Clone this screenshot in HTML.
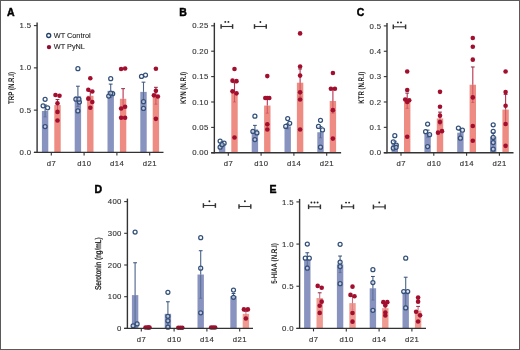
<!DOCTYPE html>
<html><head><meta charset="utf-8"><style>
html,body{margin:0;padding:0;width:520px;height:350px;overflow:hidden;background:#fff;font-family:"Liberation Sans", sans-serif;}
</style></head><body>
<svg width="520" height="350" viewBox="0 0 520 350" style="position:absolute;left:0;top:0;will-change:transform" font-family="'Liberation Sans', sans-serif">
<rect x="0" y="0" width="520" height="350" fill="#fff"/>
<text x="7.0" y="16.20" font-size="10.5" font-weight="bold" fill="#000" stroke="#000" stroke-width="0.45">A</text>
<text transform="translate(13.9,88.0) rotate(-90) scale(0.7497,1)" text-anchor="middle" font-size="8.2" font-weight="bold" fill="#1a1a1a" stroke="#1a1a1a" stroke-width="0" text-rendering="geometricPrecision">TRP (N.R.I)</text>
<rect x="41.90" y="110.98" width="6.4" height="41.42" fill="#8993bf"/>
<rect x="54.30" y="105.06" width="6.4" height="47.34" fill="#ee8b82"/>
<rect x="74.70" y="96.36" width="6.4" height="56.04" fill="#8993bf"/>
<rect x="87.10" y="95.76" width="6.4" height="56.64" fill="#ee8b82"/>
<rect x="107.50" y="90.86" width="6.4" height="61.54" fill="#8993bf"/>
<rect x="119.90" y="98.81" width="6.4" height="53.59" fill="#ee8b82"/>
<rect x="140.30" y="91.88" width="6.4" height="60.52" fill="#8993bf"/>
<rect x="152.70" y="95.76" width="6.4" height="56.64" fill="#ee8b82"/>
<line x1="45.10" y1="105.06" x2="45.10" y2="110.98" stroke="#4a6488" stroke-width="1.1"/>
<line x1="43.20" y1="105.06" x2="47.00" y2="105.06" stroke="#33507a" stroke-width="1.0"/>
<line x1="45.10" y1="110.98" x2="45.10" y2="116.90" stroke="#4a6488" stroke-width="1.0" stroke-opacity="0.75"/>
<line x1="43.60" y1="116.90" x2="46.60" y2="116.90" stroke="#4a6488" stroke-width="0.9" stroke-opacity="0.6"/>
<line x1="57.50" y1="99.57" x2="57.50" y2="105.06" stroke="#b8304f" stroke-width="1.1"/>
<line x1="55.60" y1="99.57" x2="59.40" y2="99.57" stroke="#8a2a45" stroke-width="1.0"/>
<line x1="57.50" y1="105.06" x2="57.50" y2="110.56" stroke="#b8304f" stroke-width="1.0" stroke-opacity="0.55"/>
<line x1="56.00" y1="110.56" x2="59.00" y2="110.56" stroke="#b8304f" stroke-width="0.9" stroke-opacity="0.45"/>
<line x1="77.90" y1="86.21" x2="77.90" y2="96.36" stroke="#4a6488" stroke-width="1.1"/>
<line x1="76.00" y1="86.21" x2="79.80" y2="86.21" stroke="#33507a" stroke-width="1.0"/>
<line x1="77.90" y1="96.36" x2="77.90" y2="106.50" stroke="#4a6488" stroke-width="1.0" stroke-opacity="0.75"/>
<line x1="76.40" y1="106.50" x2="79.40" y2="106.50" stroke="#4a6488" stroke-width="0.9" stroke-opacity="0.6"/>
<line x1="90.30" y1="91.54" x2="90.30" y2="95.76" stroke="#b8304f" stroke-width="1.1"/>
<line x1="88.40" y1="91.54" x2="92.20" y2="91.54" stroke="#8a2a45" stroke-width="1.0"/>
<line x1="90.30" y1="95.76" x2="90.30" y2="99.99" stroke="#b8304f" stroke-width="1.0" stroke-opacity="0.55"/>
<line x1="88.80" y1="99.99" x2="91.80" y2="99.99" stroke="#b8304f" stroke-width="0.9" stroke-opacity="0.45"/>
<line x1="110.70" y1="84.10" x2="110.70" y2="90.86" stroke="#4a6488" stroke-width="1.1"/>
<line x1="108.80" y1="84.10" x2="112.60" y2="84.10" stroke="#33507a" stroke-width="1.0"/>
<line x1="110.70" y1="90.86" x2="110.70" y2="97.62" stroke="#4a6488" stroke-width="1.0" stroke-opacity="0.75"/>
<line x1="109.20" y1="97.62" x2="112.20" y2="97.62" stroke="#4a6488" stroke-width="0.9" stroke-opacity="0.6"/>
<line x1="123.10" y1="88.66" x2="123.10" y2="98.81" stroke="#b8304f" stroke-width="1.1"/>
<line x1="121.20" y1="88.66" x2="125.00" y2="88.66" stroke="#8a2a45" stroke-width="1.0"/>
<line x1="123.10" y1="98.81" x2="123.10" y2="108.95" stroke="#b8304f" stroke-width="1.0" stroke-opacity="0.55"/>
<line x1="121.60" y1="108.95" x2="124.60" y2="108.95" stroke="#b8304f" stroke-width="0.9" stroke-opacity="0.45"/>
<line x1="143.50" y1="82.16" x2="143.50" y2="91.88" stroke="#4a6488" stroke-width="1.1"/>
<line x1="141.60" y1="82.16" x2="145.40" y2="82.16" stroke="#33507a" stroke-width="1.0"/>
<line x1="143.50" y1="91.88" x2="143.50" y2="101.60" stroke="#4a6488" stroke-width="1.0" stroke-opacity="0.75"/>
<line x1="142.00" y1="101.60" x2="145.00" y2="101.60" stroke="#4a6488" stroke-width="0.9" stroke-opacity="0.6"/>
<line x1="155.90" y1="87.31" x2="155.90" y2="95.76" stroke="#b8304f" stroke-width="1.1"/>
<line x1="154.00" y1="87.31" x2="157.80" y2="87.31" stroke="#8a2a45" stroke-width="1.0"/>
<line x1="155.90" y1="95.76" x2="155.90" y2="104.22" stroke="#b8304f" stroke-width="1.0" stroke-opacity="0.55"/>
<line x1="154.40" y1="104.22" x2="157.40" y2="104.22" stroke="#b8304f" stroke-width="0.9" stroke-opacity="0.45"/>
<circle cx="45.10" cy="99.32" r="2.0" fill="#fff" fill-opacity="0.5" stroke="#33507a" stroke-width="1.25"/>
<circle cx="43.10" cy="105.82" r="2.0" fill="#fff" fill-opacity="0.5" stroke="#33507a" stroke-width="1.25"/>
<circle cx="47.60" cy="107.85" r="2.0" fill="#fff" fill-opacity="0.5" stroke="#33507a" stroke-width="1.25"/>
<circle cx="45.10" cy="126.62" r="2.0" fill="#fff" fill-opacity="0.5" stroke="#33507a" stroke-width="1.25"/>
<circle cx="55.50" cy="95.00" r="2.3" fill="#a20f2e"/>
<circle cx="59.50" cy="95.68" r="2.3" fill="#a20f2e"/>
<circle cx="57.50" cy="103.29" r="2.3" fill="#a20f2e"/>
<circle cx="57.50" cy="111.91" r="2.3" fill="#a20f2e"/>
<circle cx="57.50" cy="120.45" r="2.3" fill="#a20f2e"/>
<circle cx="77.90" cy="68.72" r="2.0" fill="#fff" fill-opacity="0.5" stroke="#33507a" stroke-width="1.25"/>
<circle cx="75.90" cy="99.15" r="2.0" fill="#fff" fill-opacity="0.5" stroke="#33507a" stroke-width="1.25"/>
<circle cx="79.40" cy="102.02" r="2.0" fill="#fff" fill-opacity="0.5" stroke="#33507a" stroke-width="1.25"/>
<circle cx="78.90" cy="99.15" r="2.0" fill="#fff" fill-opacity="0.5" stroke="#33507a" stroke-width="1.25"/>
<circle cx="77.90" cy="110.98" r="2.0" fill="#fff" fill-opacity="0.5" stroke="#33507a" stroke-width="1.25"/>
<circle cx="90.30" cy="78.27" r="2.3" fill="#a20f2e"/>
<circle cx="88.30" cy="89.76" r="2.3" fill="#a20f2e"/>
<circle cx="92.30" cy="91.54" r="2.3" fill="#a20f2e"/>
<circle cx="88.30" cy="98.64" r="2.3" fill="#a20f2e"/>
<circle cx="92.30" cy="102.02" r="2.3" fill="#a20f2e"/>
<circle cx="90.30" cy="107.77" r="2.3" fill="#a20f2e"/>
<circle cx="110.70" cy="78.69" r="2.0" fill="#fff" fill-opacity="0.5" stroke="#33507a" stroke-width="1.25"/>
<circle cx="112.70" cy="93.74" r="2.0" fill="#fff" fill-opacity="0.5" stroke="#33507a" stroke-width="1.25"/>
<circle cx="108.70" cy="96.02" r="2.0" fill="#fff" fill-opacity="0.5" stroke="#33507a" stroke-width="1.25"/>
<circle cx="110.70" cy="93.23" r="2.0" fill="#fff" fill-opacity="0.5" stroke="#33507a" stroke-width="1.25"/>
<circle cx="125.10" cy="68.46" r="2.3" fill="#a20f2e"/>
<circle cx="121.10" cy="69.05" r="2.3" fill="#a20f2e"/>
<circle cx="125.10" cy="106.75" r="2.3" fill="#a20f2e"/>
<circle cx="121.10" cy="108.44" r="2.3" fill="#a20f2e"/>
<circle cx="121.10" cy="117.74" r="2.3" fill="#a20f2e"/>
<circle cx="125.10" cy="117.74" r="2.3" fill="#a20f2e"/>
<circle cx="145.50" cy="75.06" r="2.0" fill="#fff" fill-opacity="0.5" stroke="#33507a" stroke-width="1.25"/>
<circle cx="141.50" cy="76.49" r="2.0" fill="#fff" fill-opacity="0.5" stroke="#33507a" stroke-width="1.25"/>
<circle cx="143.50" cy="101.68" r="2.0" fill="#fff" fill-opacity="0.5" stroke="#33507a" stroke-width="1.25"/>
<circle cx="143.50" cy="108.44" r="2.0" fill="#fff" fill-opacity="0.5" stroke="#33507a" stroke-width="1.25"/>
<circle cx="155.90" cy="68.72" r="2.3" fill="#a20f2e"/>
<circle cx="155.90" cy="90.86" r="2.3" fill="#a20f2e"/>
<circle cx="153.90" cy="95.34" r="2.3" fill="#a20f2e"/>
<circle cx="157.90" cy="96.53" r="2.3" fill="#a20f2e"/>
<circle cx="155.90" cy="118.84" r="2.3" fill="#a20f2e"/>
<line x1="37.1" y1="22.61" x2="37.1" y2="153.00" stroke="#333" stroke-width="1.4"/>
<line x1="33.9" y1="152.4" x2="163.5" y2="152.4" stroke="#333" stroke-width="1.4"/>
<line x1="33.9" y1="152.40" x2="37.1" y2="152.40" stroke="#333" stroke-width="1.1"/>
<text x="31.5" y="155.00" text-anchor="end" font-size="7.8" letter-spacing="0.35" fill="#333" stroke="#333" stroke-width="0.12">0.0</text>
<line x1="33.9" y1="110.14" x2="37.1" y2="110.14" stroke="#333" stroke-width="1.1"/>
<text x="31.5" y="112.73" text-anchor="end" font-size="7.8" letter-spacing="0.35" fill="#333" stroke="#333" stroke-width="0.12">0.5</text>
<line x1="33.9" y1="67.87" x2="37.1" y2="67.87" stroke="#333" stroke-width="1.1"/>
<text x="31.5" y="70.47" text-anchor="end" font-size="7.8" letter-spacing="0.35" fill="#333" stroke="#333" stroke-width="0.12">1.0</text>
<line x1="33.9" y1="25.61" x2="37.1" y2="25.61" stroke="#333" stroke-width="1.1"/>
<text x="31.5" y="28.21" text-anchor="end" font-size="7.8" letter-spacing="0.35" fill="#333" stroke="#333" stroke-width="0.12">1.5</text>
<line x1="51.30" y1="152.4" x2="51.30" y2="155.4" stroke="#333" stroke-width="1.1"/>
<text x="51.55" y="165.70" text-anchor="middle" font-size="7.7" letter-spacing="0.5" fill="#333" stroke="#333" stroke-width="0.15">d7</text>
<line x1="84.10" y1="152.4" x2="84.10" y2="155.4" stroke="#333" stroke-width="1.1"/>
<text x="84.35" y="165.70" text-anchor="middle" font-size="7.7" letter-spacing="0.5" fill="#333" stroke="#333" stroke-width="0.15">d10</text>
<line x1="116.90" y1="152.4" x2="116.90" y2="155.4" stroke="#333" stroke-width="1.1"/>
<text x="117.15" y="165.70" text-anchor="middle" font-size="7.7" letter-spacing="0.5" fill="#333" stroke="#333" stroke-width="0.15">d14</text>
<line x1="149.70" y1="152.4" x2="149.70" y2="155.4" stroke="#333" stroke-width="1.1"/>
<text x="149.95" y="165.70" text-anchor="middle" font-size="7.7" letter-spacing="0.5" fill="#333" stroke="#333" stroke-width="0.15">d21</text>
<text x="179.3" y="15.80" font-size="10.5" font-weight="bold" fill="#000" stroke="#000" stroke-width="0.45">B</text>
<text transform="translate(186.4,88.0) rotate(-90) scale(0.7385,1)" text-anchor="middle" font-size="8.2" font-weight="bold" fill="#1a1a1a" stroke="#1a1a1a" stroke-width="0" text-rendering="geometricPrecision">KYN (N.R.I)</text>
<rect x="218.90" y="143.66" width="6.4" height="9.14" fill="#8993bf"/>
<rect x="231.30" y="92.35" width="6.4" height="60.45" fill="#ee8b82"/>
<rect x="251.70" y="129.43" width="6.4" height="23.37" fill="#8993bf"/>
<rect x="264.10" y="105.56" width="6.4" height="47.24" fill="#ee8b82"/>
<rect x="284.50" y="126.38" width="6.4" height="26.42" fill="#8993bf"/>
<rect x="296.90" y="82.70" width="6.4" height="70.10" fill="#ee8b82"/>
<rect x="317.30" y="132.23" width="6.4" height="20.57" fill="#8993bf"/>
<rect x="329.70" y="100.98" width="6.4" height="51.82" fill="#ee8b82"/>
<line x1="222.10" y1="141.62" x2="222.10" y2="143.66" stroke="#4a6488" stroke-width="1.1"/>
<line x1="220.20" y1="141.62" x2="224.00" y2="141.62" stroke="#33507a" stroke-width="1.0"/>
<line x1="222.10" y1="143.66" x2="222.10" y2="145.69" stroke="#4a6488" stroke-width="1.0" stroke-opacity="0.75"/>
<line x1="220.60" y1="145.69" x2="223.60" y2="145.69" stroke="#4a6488" stroke-width="0.9" stroke-opacity="0.6"/>
<line x1="234.50" y1="82.70" x2="234.50" y2="92.35" stroke="#b8304f" stroke-width="1.1"/>
<line x1="232.60" y1="82.70" x2="236.40" y2="82.70" stroke="#8a2a45" stroke-width="1.0"/>
<line x1="234.50" y1="92.35" x2="234.50" y2="102.00" stroke="#b8304f" stroke-width="1.0" stroke-opacity="0.55"/>
<line x1="233.00" y1="102.00" x2="236.00" y2="102.00" stroke="#b8304f" stroke-width="0.9" stroke-opacity="0.45"/>
<line x1="254.90" y1="125.37" x2="254.90" y2="129.43" stroke="#4a6488" stroke-width="1.1"/>
<line x1="253.00" y1="125.37" x2="256.80" y2="125.37" stroke="#33507a" stroke-width="1.0"/>
<line x1="254.90" y1="129.43" x2="254.90" y2="133.50" stroke="#4a6488" stroke-width="1.0" stroke-opacity="0.75"/>
<line x1="253.40" y1="133.50" x2="256.40" y2="133.50" stroke="#4a6488" stroke-width="0.9" stroke-opacity="0.6"/>
<line x1="267.30" y1="97.94" x2="267.30" y2="105.56" stroke="#b8304f" stroke-width="1.1"/>
<line x1="265.40" y1="97.94" x2="269.20" y2="97.94" stroke="#8a2a45" stroke-width="1.0"/>
<line x1="267.30" y1="105.56" x2="267.30" y2="113.18" stroke="#b8304f" stroke-width="1.0" stroke-opacity="0.55"/>
<line x1="265.80" y1="113.18" x2="268.80" y2="113.18" stroke="#b8304f" stroke-width="0.9" stroke-opacity="0.45"/>
<line x1="287.70" y1="123.84" x2="287.70" y2="126.38" stroke="#4a6488" stroke-width="1.1"/>
<line x1="285.80" y1="123.84" x2="289.60" y2="123.84" stroke="#33507a" stroke-width="1.0"/>
<line x1="287.70" y1="126.38" x2="287.70" y2="128.92" stroke="#4a6488" stroke-width="1.0" stroke-opacity="0.75"/>
<line x1="286.20" y1="128.92" x2="289.20" y2="128.92" stroke="#4a6488" stroke-width="0.9" stroke-opacity="0.6"/>
<line x1="300.10" y1="68.98" x2="300.10" y2="82.70" stroke="#b8304f" stroke-width="1.1"/>
<line x1="298.20" y1="68.98" x2="302.00" y2="68.98" stroke="#8a2a45" stroke-width="1.0"/>
<line x1="300.10" y1="82.70" x2="300.10" y2="96.41" stroke="#b8304f" stroke-width="1.0" stroke-opacity="0.55"/>
<line x1="298.60" y1="96.41" x2="301.60" y2="96.41" stroke="#b8304f" stroke-width="0.9" stroke-opacity="0.45"/>
<line x1="320.50" y1="126.64" x2="320.50" y2="132.23" stroke="#4a6488" stroke-width="1.1"/>
<line x1="318.60" y1="126.64" x2="322.40" y2="126.64" stroke="#33507a" stroke-width="1.0"/>
<line x1="320.50" y1="132.23" x2="320.50" y2="137.81" stroke="#4a6488" stroke-width="1.0" stroke-opacity="0.75"/>
<line x1="319.00" y1="137.81" x2="322.00" y2="137.81" stroke="#4a6488" stroke-width="0.9" stroke-opacity="0.6"/>
<line x1="332.90" y1="88.79" x2="332.90" y2="100.98" stroke="#b8304f" stroke-width="1.1"/>
<line x1="331.00" y1="88.79" x2="334.80" y2="88.79" stroke="#8a2a45" stroke-width="1.0"/>
<line x1="332.90" y1="100.98" x2="332.90" y2="113.18" stroke="#b8304f" stroke-width="1.0" stroke-opacity="0.55"/>
<line x1="331.40" y1="113.18" x2="334.40" y2="113.18" stroke="#b8304f" stroke-width="0.9" stroke-opacity="0.45"/>
<circle cx="220.10" cy="141.12" r="2.0" fill="#fff" fill-opacity="0.5" stroke="#33507a" stroke-width="1.25"/>
<circle cx="224.10" cy="143.15" r="2.0" fill="#fff" fill-opacity="0.5" stroke="#33507a" stroke-width="1.25"/>
<circle cx="220.10" cy="147.21" r="2.0" fill="#fff" fill-opacity="0.5" stroke="#33507a" stroke-width="1.25"/>
<circle cx="222.10" cy="144.67" r="2.0" fill="#fff" fill-opacity="0.5" stroke="#33507a" stroke-width="1.25"/>
<circle cx="234.50" cy="68.98" r="2.3" fill="#a20f2e"/>
<circle cx="232.50" cy="80.66" r="2.3" fill="#a20f2e"/>
<circle cx="236.50" cy="81.17" r="2.3" fill="#a20f2e"/>
<circle cx="232.50" cy="91.33" r="2.3" fill="#a20f2e"/>
<circle cx="236.50" cy="93.36" r="2.3" fill="#a20f2e"/>
<circle cx="234.50" cy="137.56" r="2.3" fill="#a20f2e"/>
<circle cx="254.90" cy="116.22" r="2.0" fill="#fff" fill-opacity="0.5" stroke="#33507a" stroke-width="1.25"/>
<circle cx="252.90" cy="131.46" r="2.0" fill="#fff" fill-opacity="0.5" stroke="#33507a" stroke-width="1.25"/>
<circle cx="256.90" cy="132.99" r="2.0" fill="#fff" fill-opacity="0.5" stroke="#33507a" stroke-width="1.25"/>
<circle cx="254.90" cy="139.59" r="2.0" fill="#fff" fill-opacity="0.5" stroke="#33507a" stroke-width="1.25"/>
<circle cx="267.30" cy="76.09" r="2.3" fill="#a20f2e"/>
<circle cx="265.30" cy="97.94" r="2.3" fill="#a20f2e"/>
<circle cx="269.30" cy="97.94" r="2.3" fill="#a20f2e"/>
<circle cx="267.30" cy="97.94" r="2.3" fill="#a20f2e"/>
<circle cx="267.30" cy="124.35" r="2.3" fill="#a20f2e"/>
<circle cx="267.30" cy="129.43" r="2.3" fill="#a20f2e"/>
<circle cx="287.70" cy="118.51" r="2.0" fill="#fff" fill-opacity="0.5" stroke="#33507a" stroke-width="1.25"/>
<circle cx="289.70" cy="123.34" r="2.0" fill="#fff" fill-opacity="0.5" stroke="#33507a" stroke-width="1.25"/>
<circle cx="285.70" cy="126.38" r="2.0" fill="#fff" fill-opacity="0.5" stroke="#33507a" stroke-width="1.25"/>
<circle cx="300.10" cy="33.42" r="2.3" fill="#a20f2e"/>
<circle cx="300.10" cy="66.44" r="2.3" fill="#a20f2e"/>
<circle cx="300.10" cy="75.58" r="2.3" fill="#a20f2e"/>
<circle cx="300.10" cy="92.35" r="2.3" fill="#a20f2e"/>
<circle cx="300.10" cy="99.46" r="2.3" fill="#a20f2e"/>
<circle cx="300.10" cy="129.43" r="2.3" fill="#a20f2e"/>
<circle cx="320.50" cy="120.29" r="2.0" fill="#fff" fill-opacity="0.5" stroke="#33507a" stroke-width="1.25"/>
<circle cx="318.50" cy="126.38" r="2.0" fill="#fff" fill-opacity="0.5" stroke="#33507a" stroke-width="1.25"/>
<circle cx="322.50" cy="129.94" r="2.0" fill="#fff" fill-opacity="0.5" stroke="#33507a" stroke-width="1.25"/>
<circle cx="320.50" cy="147.21" r="2.0" fill="#fff" fill-opacity="0.5" stroke="#33507a" stroke-width="1.25"/>
<circle cx="332.90" cy="73.04" r="2.3" fill="#a20f2e"/>
<circle cx="330.90" cy="88.79" r="2.3" fill="#a20f2e"/>
<circle cx="334.90" cy="88.79" r="2.3" fill="#a20f2e"/>
<circle cx="332.90" cy="110.13" r="2.3" fill="#a20f2e"/>
<circle cx="332.90" cy="138.58" r="2.3" fill="#a20f2e"/>
<line x1="214.35" y1="22.80" x2="214.35" y2="153.40" stroke="#333" stroke-width="1.4"/>
<line x1="211.15" y1="152.8" x2="341.1" y2="152.8" stroke="#333" stroke-width="1.4"/>
<line x1="211.15" y1="152.80" x2="214.35" y2="152.80" stroke="#333" stroke-width="1.1"/>
<text x="208.75" y="155.40" text-anchor="end" font-size="7.8" letter-spacing="0.35" fill="#333" stroke="#333" stroke-width="0.12">0.00</text>
<line x1="211.15" y1="127.40" x2="214.35" y2="127.40" stroke="#333" stroke-width="1.1"/>
<text x="208.75" y="130.00" text-anchor="end" font-size="7.8" letter-spacing="0.35" fill="#333" stroke="#333" stroke-width="0.12">0.05</text>
<line x1="211.15" y1="102.00" x2="214.35" y2="102.00" stroke="#333" stroke-width="1.1"/>
<text x="208.75" y="104.60" text-anchor="end" font-size="7.8" letter-spacing="0.35" fill="#333" stroke="#333" stroke-width="0.12">0.10</text>
<line x1="211.15" y1="76.60" x2="214.35" y2="76.60" stroke="#333" stroke-width="1.1"/>
<text x="208.75" y="79.20" text-anchor="end" font-size="7.8" letter-spacing="0.35" fill="#333" stroke="#333" stroke-width="0.12">0.15</text>
<line x1="211.15" y1="51.20" x2="214.35" y2="51.20" stroke="#333" stroke-width="1.1"/>
<text x="208.75" y="53.80" text-anchor="end" font-size="7.8" letter-spacing="0.35" fill="#333" stroke="#333" stroke-width="0.12">0.20</text>
<line x1="211.15" y1="25.80" x2="214.35" y2="25.80" stroke="#333" stroke-width="1.1"/>
<text x="208.75" y="28.40" text-anchor="end" font-size="7.8" letter-spacing="0.35" fill="#333" stroke="#333" stroke-width="0.12">0.25</text>
<line x1="228.30" y1="152.8" x2="228.30" y2="155.8" stroke="#333" stroke-width="1.1"/>
<text x="228.55" y="166.10" text-anchor="middle" font-size="7.7" letter-spacing="0.5" fill="#333" stroke="#333" stroke-width="0.15">d7</text>
<line x1="261.10" y1="152.8" x2="261.10" y2="155.8" stroke="#333" stroke-width="1.1"/>
<text x="261.35" y="166.10" text-anchor="middle" font-size="7.7" letter-spacing="0.5" fill="#333" stroke="#333" stroke-width="0.15">d10</text>
<line x1="293.90" y1="152.8" x2="293.90" y2="155.8" stroke="#333" stroke-width="1.1"/>
<text x="294.15" y="166.10" text-anchor="middle" font-size="7.7" letter-spacing="0.5" fill="#333" stroke="#333" stroke-width="0.15">d14</text>
<line x1="326.70" y1="152.8" x2="326.70" y2="155.8" stroke="#333" stroke-width="1.1"/>
<text x="326.95" y="166.10" text-anchor="middle" font-size="7.7" letter-spacing="0.5" fill="#333" stroke="#333" stroke-width="0.15">d21</text>
<line x1="221.10" y1="26.5" x2="232.60" y2="26.5" stroke="#333" stroke-width="1.1"/>
<line x1="221.10" y1="24.2" x2="221.10" y2="28.8" stroke="#333" stroke-width="1.45"/>
<line x1="232.60" y1="24.2" x2="232.60" y2="28.8" stroke="#333" stroke-width="1.45"/>
<circle cx="225.30" cy="21.9" r="0.95" fill="#222"/>
<circle cx="228.40" cy="21.9" r="0.95" fill="#222"/>
<line x1="254.50" y1="26.5" x2="266.25" y2="26.5" stroke="#333" stroke-width="1.1"/>
<line x1="254.50" y1="24.2" x2="254.50" y2="28.8" stroke="#333" stroke-width="1.45"/>
<line x1="266.25" y1="24.2" x2="266.25" y2="28.8" stroke="#333" stroke-width="1.45"/>
<circle cx="260.38" cy="22.0" r="0.95" fill="#222"/>
<text x="356.7" y="16.10" font-size="10.5" font-weight="bold" fill="#000" stroke="#000" stroke-width="0.45">C</text>
<text transform="translate(364.3,87.7) rotate(-90) scale(0.7395,1)" text-anchor="middle" font-size="8.2" font-weight="bold" fill="#1a1a1a" stroke="#1a1a1a" stroke-width="0" text-rendering="geometricPrecision">KTR (N.R.I)</text>
<rect x="391.60" y="143.57" width="6.4" height="9.13" fill="#8993bf"/>
<rect x="404.00" y="100.71" width="6.4" height="51.99" fill="#ee8b82"/>
<rect x="424.40" y="133.68" width="6.4" height="19.02" fill="#8993bf"/>
<rect x="436.80" y="118.46" width="6.4" height="34.24" fill="#ee8b82"/>
<rect x="457.20" y="132.67" width="6.4" height="20.03" fill="#8993bf"/>
<rect x="469.60" y="84.74" width="6.4" height="67.96" fill="#ee8b82"/>
<rect x="490.00" y="136.72" width="6.4" height="15.98" fill="#8993bf"/>
<rect x="502.40" y="109.59" width="6.4" height="43.11" fill="#ee8b82"/>
<line x1="394.80" y1="141.29" x2="394.80" y2="143.57" stroke="#4a6488" stroke-width="1.1"/>
<line x1="392.90" y1="141.29" x2="396.70" y2="141.29" stroke="#33507a" stroke-width="1.0"/>
<line x1="394.80" y1="143.57" x2="394.80" y2="145.85" stroke="#4a6488" stroke-width="1.0" stroke-opacity="0.75"/>
<line x1="393.30" y1="145.85" x2="396.30" y2="145.85" stroke="#4a6488" stroke-width="0.9" stroke-opacity="0.6"/>
<line x1="407.20" y1="93.10" x2="407.20" y2="100.71" stroke="#b8304f" stroke-width="1.1"/>
<line x1="405.30" y1="93.10" x2="409.10" y2="93.10" stroke="#8a2a45" stroke-width="1.0"/>
<line x1="407.20" y1="100.71" x2="407.20" y2="108.32" stroke="#b8304f" stroke-width="1.0" stroke-opacity="0.55"/>
<line x1="405.70" y1="108.32" x2="408.70" y2="108.32" stroke="#b8304f" stroke-width="0.9" stroke-opacity="0.45"/>
<line x1="427.60" y1="130.13" x2="427.60" y2="133.68" stroke="#4a6488" stroke-width="1.1"/>
<line x1="425.70" y1="130.13" x2="429.50" y2="130.13" stroke="#33507a" stroke-width="1.0"/>
<line x1="427.60" y1="133.68" x2="427.60" y2="137.23" stroke="#4a6488" stroke-width="1.0" stroke-opacity="0.75"/>
<line x1="426.10" y1="137.23" x2="429.10" y2="137.23" stroke="#4a6488" stroke-width="0.9" stroke-opacity="0.6"/>
<line x1="440.00" y1="112.12" x2="440.00" y2="118.46" stroke="#b8304f" stroke-width="1.1"/>
<line x1="438.10" y1="112.12" x2="441.90" y2="112.12" stroke="#8a2a45" stroke-width="1.0"/>
<line x1="440.00" y1="118.46" x2="440.00" y2="124.80" stroke="#b8304f" stroke-width="1.0" stroke-opacity="0.55"/>
<line x1="438.50" y1="124.80" x2="441.50" y2="124.80" stroke="#b8304f" stroke-width="0.9" stroke-opacity="0.45"/>
<line x1="460.40" y1="130.13" x2="460.40" y2="132.67" stroke="#4a6488" stroke-width="1.1"/>
<line x1="458.50" y1="130.13" x2="462.30" y2="130.13" stroke="#33507a" stroke-width="1.0"/>
<line x1="460.40" y1="132.67" x2="460.40" y2="135.20" stroke="#4a6488" stroke-width="1.0" stroke-opacity="0.75"/>
<line x1="458.90" y1="135.20" x2="461.90" y2="135.20" stroke="#4a6488" stroke-width="0.9" stroke-opacity="0.6"/>
<line x1="472.80" y1="66.98" x2="472.80" y2="84.74" stroke="#b8304f" stroke-width="1.1"/>
<line x1="470.90" y1="66.98" x2="474.70" y2="66.98" stroke="#8a2a45" stroke-width="1.0"/>
<line x1="472.80" y1="84.74" x2="472.80" y2="102.49" stroke="#b8304f" stroke-width="1.0" stroke-opacity="0.55"/>
<line x1="471.30" y1="102.49" x2="474.30" y2="102.49" stroke="#b8304f" stroke-width="0.9" stroke-opacity="0.45"/>
<line x1="493.20" y1="132.41" x2="493.20" y2="136.72" stroke="#4a6488" stroke-width="1.1"/>
<line x1="491.30" y1="132.41" x2="495.10" y2="132.41" stroke="#33507a" stroke-width="1.0"/>
<line x1="493.20" y1="136.72" x2="493.20" y2="141.03" stroke="#4a6488" stroke-width="1.0" stroke-opacity="0.75"/>
<line x1="491.70" y1="141.03" x2="494.70" y2="141.03" stroke="#4a6488" stroke-width="0.9" stroke-opacity="0.6"/>
<line x1="505.60" y1="94.37" x2="505.60" y2="109.59" stroke="#b8304f" stroke-width="1.1"/>
<line x1="503.70" y1="94.37" x2="507.50" y2="94.37" stroke="#8a2a45" stroke-width="1.0"/>
<line x1="505.60" y1="109.59" x2="505.60" y2="124.80" stroke="#b8304f" stroke-width="1.0" stroke-opacity="0.55"/>
<line x1="504.10" y1="124.80" x2="507.10" y2="124.80" stroke="#b8304f" stroke-width="0.9" stroke-opacity="0.45"/>
<circle cx="394.80" cy="135.71" r="2.0" fill="#fff" fill-opacity="0.5" stroke="#33507a" stroke-width="1.25"/>
<circle cx="393.30" cy="141.80" r="2.0" fill="#fff" fill-opacity="0.5" stroke="#33507a" stroke-width="1.25"/>
<circle cx="396.30" cy="145.09" r="2.0" fill="#fff" fill-opacity="0.5" stroke="#33507a" stroke-width="1.25"/>
<circle cx="393.30" cy="148.14" r="2.0" fill="#fff" fill-opacity="0.5" stroke="#33507a" stroke-width="1.25"/>
<circle cx="396.10" cy="147.37" r="2.0" fill="#fff" fill-opacity="0.5" stroke="#33507a" stroke-width="1.25"/>
<circle cx="407.20" cy="71.55" r="2.3" fill="#a20f2e"/>
<circle cx="407.20" cy="90.06" r="2.3" fill="#a20f2e"/>
<circle cx="405.20" cy="99.44" r="2.3" fill="#a20f2e"/>
<circle cx="409.20" cy="100.20" r="2.3" fill="#a20f2e"/>
<circle cx="407.20" cy="101.98" r="2.3" fill="#a20f2e"/>
<circle cx="407.20" cy="136.72" r="2.3" fill="#a20f2e"/>
<circle cx="427.60" cy="124.04" r="2.0" fill="#fff" fill-opacity="0.5" stroke="#33507a" stroke-width="1.25"/>
<circle cx="425.60" cy="131.65" r="2.0" fill="#fff" fill-opacity="0.5" stroke="#33507a" stroke-width="1.25"/>
<circle cx="429.60" cy="134.69" r="2.0" fill="#fff" fill-opacity="0.5" stroke="#33507a" stroke-width="1.25"/>
<circle cx="427.60" cy="146.61" r="2.0" fill="#fff" fill-opacity="0.5" stroke="#33507a" stroke-width="1.25"/>
<circle cx="440.00" cy="91.84" r="2.3" fill="#a20f2e"/>
<circle cx="440.00" cy="106.80" r="2.3" fill="#a20f2e"/>
<circle cx="440.00" cy="115.67" r="2.3" fill="#a20f2e"/>
<circle cx="440.00" cy="122.01" r="2.3" fill="#a20f2e"/>
<circle cx="438.00" cy="132.67" r="2.3" fill="#a20f2e"/>
<circle cx="442.00" cy="131.14" r="2.3" fill="#a20f2e"/>
<circle cx="458.40" cy="128.10" r="2.0" fill="#fff" fill-opacity="0.5" stroke="#33507a" stroke-width="1.25"/>
<circle cx="462.40" cy="130.13" r="2.0" fill="#fff" fill-opacity="0.5" stroke="#33507a" stroke-width="1.25"/>
<circle cx="460.40" cy="138.24" r="2.0" fill="#fff" fill-opacity="0.5" stroke="#33507a" stroke-width="1.25"/>
<circle cx="472.80" cy="38.07" r="2.3" fill="#a20f2e"/>
<circle cx="472.80" cy="46.70" r="2.3" fill="#a20f2e"/>
<circle cx="472.80" cy="59.63" r="2.3" fill="#a20f2e"/>
<circle cx="472.80" cy="97.42" r="2.3" fill="#a20f2e"/>
<circle cx="472.80" cy="126.07" r="2.3" fill="#a20f2e"/>
<circle cx="472.80" cy="140.78" r="2.3" fill="#a20f2e"/>
<circle cx="493.20" cy="124.80" r="2.0" fill="#fff" fill-opacity="0.5" stroke="#33507a" stroke-width="1.25"/>
<circle cx="493.20" cy="131.40" r="2.0" fill="#fff" fill-opacity="0.5" stroke="#33507a" stroke-width="1.25"/>
<circle cx="493.20" cy="137.48" r="2.0" fill="#fff" fill-opacity="0.5" stroke="#33507a" stroke-width="1.25"/>
<circle cx="493.20" cy="142.56" r="2.0" fill="#fff" fill-opacity="0.5" stroke="#33507a" stroke-width="1.25"/>
<circle cx="493.20" cy="149.15" r="2.0" fill="#fff" fill-opacity="0.5" stroke="#33507a" stroke-width="1.25"/>
<circle cx="505.60" cy="71.55" r="2.3" fill="#a20f2e"/>
<circle cx="505.60" cy="92.09" r="2.3" fill="#a20f2e"/>
<circle cx="505.60" cy="105.78" r="2.3" fill="#a20f2e"/>
<circle cx="505.60" cy="124.04" r="2.3" fill="#a20f2e"/>
<circle cx="505.60" cy="145.85" r="2.3" fill="#a20f2e"/>
<line x1="387.0" y1="22.90" x2="387.0" y2="153.30" stroke="#333" stroke-width="1.4"/>
<line x1="383.8" y1="152.7" x2="513.5" y2="152.7" stroke="#333" stroke-width="1.4"/>
<line x1="383.8" y1="152.70" x2="387.0" y2="152.70" stroke="#333" stroke-width="1.1"/>
<text x="381.4" y="155.30" text-anchor="end" font-size="7.8" letter-spacing="0.35" fill="#333" stroke="#333" stroke-width="0.12">0.0</text>
<line x1="383.8" y1="127.34" x2="387.0" y2="127.34" stroke="#333" stroke-width="1.1"/>
<text x="381.4" y="129.94" text-anchor="end" font-size="7.8" letter-spacing="0.35" fill="#333" stroke="#333" stroke-width="0.12">0.1</text>
<line x1="383.8" y1="101.98" x2="387.0" y2="101.98" stroke="#333" stroke-width="1.1"/>
<text x="381.4" y="104.58" text-anchor="end" font-size="7.8" letter-spacing="0.35" fill="#333" stroke="#333" stroke-width="0.12">0.2</text>
<line x1="383.8" y1="76.62" x2="387.0" y2="76.62" stroke="#333" stroke-width="1.1"/>
<text x="381.4" y="79.22" text-anchor="end" font-size="7.8" letter-spacing="0.35" fill="#333" stroke="#333" stroke-width="0.12">0.3</text>
<line x1="383.8" y1="51.26" x2="387.0" y2="51.26" stroke="#333" stroke-width="1.1"/>
<text x="381.4" y="53.86" text-anchor="end" font-size="7.8" letter-spacing="0.35" fill="#333" stroke="#333" stroke-width="0.12">0.4</text>
<line x1="383.8" y1="25.90" x2="387.0" y2="25.90" stroke="#333" stroke-width="1.1"/>
<text x="381.4" y="28.50" text-anchor="end" font-size="7.8" letter-spacing="0.35" fill="#333" stroke="#333" stroke-width="0.12">0.5</text>
<line x1="401.00" y1="152.7" x2="401.00" y2="155.7" stroke="#333" stroke-width="1.1"/>
<text x="401.25" y="166.00" text-anchor="middle" font-size="7.7" letter-spacing="0.5" fill="#333" stroke="#333" stroke-width="0.15">d7</text>
<line x1="433.80" y1="152.7" x2="433.80" y2="155.7" stroke="#333" stroke-width="1.1"/>
<text x="434.05" y="166.00" text-anchor="middle" font-size="7.7" letter-spacing="0.5" fill="#333" stroke="#333" stroke-width="0.15">d10</text>
<line x1="466.60" y1="152.7" x2="466.60" y2="155.7" stroke="#333" stroke-width="1.1"/>
<text x="466.85" y="166.00" text-anchor="middle" font-size="7.7" letter-spacing="0.5" fill="#333" stroke="#333" stroke-width="0.15">d14</text>
<line x1="499.40" y1="152.7" x2="499.40" y2="155.7" stroke="#333" stroke-width="1.1"/>
<text x="499.65" y="166.00" text-anchor="middle" font-size="7.7" letter-spacing="0.5" fill="#333" stroke="#333" stroke-width="0.15">d21</text>
<line x1="393.30" y1="26.8" x2="405.60" y2="26.8" stroke="#333" stroke-width="1.1"/>
<line x1="393.30" y1="24.5" x2="393.30" y2="29.1" stroke="#333" stroke-width="1.45"/>
<line x1="405.60" y1="24.5" x2="405.60" y2="29.1" stroke="#333" stroke-width="1.45"/>
<circle cx="397.90" cy="22.4" r="0.95" fill="#222"/>
<circle cx="401.00" cy="22.4" r="0.95" fill="#222"/>
<text x="94.4" y="192.70" font-size="10.5" font-weight="bold" fill="#000" stroke="#000" stroke-width="0.45">D</text>
<text transform="translate(101.2,263.7) rotate(-90) scale(0.7875,1)" text-anchor="middle" font-size="8.4" font-weight="normal" fill="#1a1a1a" stroke="#1a1a1a" stroke-width="0.3" text-rendering="geometricPrecision">Serotonin (ng/mL)</text>
<rect x="131.90" y="295.11" width="6.4" height="33.29" fill="#8993bf"/>
<rect x="144.30" y="327.45" width="6.4" height="0.95" fill="#f09b92"/>
<rect x="164.70" y="313.82" width="6.4" height="14.58" fill="#8993bf"/>
<rect x="177.10" y="327.77" width="6.4" height="0.63" fill="#f09b92"/>
<rect x="197.50" y="274.51" width="6.4" height="53.89" fill="#8993bf"/>
<rect x="209.90" y="327.45" width="6.4" height="0.95" fill="#f09b92"/>
<rect x="230.30" y="296.07" width="6.4" height="32.33" fill="#8993bf"/>
<rect x="242.70" y="313.82" width="6.4" height="14.58" fill="#f09b92"/>
<line x1="135.10" y1="262.78" x2="135.10" y2="295.11" stroke="#4a6488" stroke-width="1.1"/>
<line x1="133.20" y1="262.78" x2="137.00" y2="262.78" stroke="#33507a" stroke-width="1.0"/>
<line x1="135.10" y1="295.11" x2="135.10" y2="327.45" stroke="#4a6488" stroke-width="1.0" stroke-opacity="0.75"/>
<line x1="133.60" y1="327.45" x2="136.60" y2="327.45" stroke="#4a6488" stroke-width="0.9" stroke-opacity="0.6"/>
<line x1="147.50" y1="327.13" x2="147.50" y2="327.45" stroke="#c8707e" stroke-width="1.1"/>
<line x1="145.60" y1="327.13" x2="149.40" y2="327.13" stroke="#8a2a45" stroke-width="1.0"/>
<line x1="147.50" y1="327.45" x2="147.50" y2="327.77" stroke="#c8707e" stroke-width="1.0" stroke-opacity="0.55"/>
<line x1="146.00" y1="327.77" x2="149.00" y2="327.77" stroke="#c8707e" stroke-width="0.9" stroke-opacity="0.45"/>
<line x1="167.90" y1="301.77" x2="167.90" y2="313.82" stroke="#4a6488" stroke-width="1.1"/>
<line x1="166.00" y1="301.77" x2="169.80" y2="301.77" stroke="#33507a" stroke-width="1.0"/>
<line x1="167.90" y1="313.82" x2="167.90" y2="325.86" stroke="#4a6488" stroke-width="1.0" stroke-opacity="0.75"/>
<line x1="166.40" y1="325.86" x2="169.40" y2="325.86" stroke="#4a6488" stroke-width="0.9" stroke-opacity="0.6"/>
<line x1="180.30" y1="327.45" x2="180.30" y2="327.77" stroke="#c8707e" stroke-width="1.1"/>
<line x1="178.40" y1="327.45" x2="182.20" y2="327.45" stroke="#8a2a45" stroke-width="1.0"/>
<line x1="180.30" y1="327.77" x2="180.30" y2="328.08" stroke="#c8707e" stroke-width="1.0" stroke-opacity="0.55"/>
<line x1="178.80" y1="328.08" x2="181.80" y2="328.08" stroke="#c8707e" stroke-width="0.9" stroke-opacity="0.45"/>
<line x1="200.70" y1="250.73" x2="200.70" y2="274.51" stroke="#4a6488" stroke-width="1.1"/>
<line x1="198.80" y1="250.73" x2="202.60" y2="250.73" stroke="#33507a" stroke-width="1.0"/>
<line x1="200.70" y1="274.51" x2="200.70" y2="298.28" stroke="#4a6488" stroke-width="1.0" stroke-opacity="0.75"/>
<line x1="199.20" y1="298.28" x2="202.20" y2="298.28" stroke="#4a6488" stroke-width="0.9" stroke-opacity="0.6"/>
<line x1="213.10" y1="327.13" x2="213.10" y2="327.45" stroke="#c8707e" stroke-width="1.1"/>
<line x1="211.20" y1="327.13" x2="215.00" y2="327.13" stroke="#8a2a45" stroke-width="1.0"/>
<line x1="213.10" y1="327.45" x2="213.10" y2="327.77" stroke="#c8707e" stroke-width="1.0" stroke-opacity="0.55"/>
<line x1="211.60" y1="327.77" x2="214.60" y2="327.77" stroke="#c8707e" stroke-width="0.9" stroke-opacity="0.45"/>
<line x1="233.50" y1="293.53" x2="233.50" y2="296.07" stroke="#4a6488" stroke-width="1.1"/>
<line x1="231.60" y1="293.53" x2="235.40" y2="293.53" stroke="#33507a" stroke-width="1.0"/>
<line x1="233.50" y1="296.07" x2="233.50" y2="298.60" stroke="#4a6488" stroke-width="1.0" stroke-opacity="0.75"/>
<line x1="232.00" y1="298.60" x2="235.00" y2="298.60" stroke="#4a6488" stroke-width="0.9" stroke-opacity="0.6"/>
<line x1="245.90" y1="311.28" x2="245.90" y2="313.82" stroke="#c8707e" stroke-width="1.1"/>
<line x1="244.00" y1="311.28" x2="247.80" y2="311.28" stroke="#8a2a45" stroke-width="1.0"/>
<line x1="245.90" y1="313.82" x2="245.90" y2="316.35" stroke="#c8707e" stroke-width="1.0" stroke-opacity="0.55"/>
<line x1="244.40" y1="316.35" x2="247.40" y2="316.35" stroke="#c8707e" stroke-width="0.9" stroke-opacity="0.45"/>
<circle cx="135.10" cy="232.03" r="2.0" fill="#fff" fill-opacity="0.5" stroke="#33507a" stroke-width="1.25"/>
<circle cx="133.10" cy="325.86" r="2.0" fill="#fff" fill-opacity="0.5" stroke="#33507a" stroke-width="1.25"/>
<circle cx="137.10" cy="323.96" r="2.0" fill="#fff" fill-opacity="0.5" stroke="#33507a" stroke-width="1.25"/>
<circle cx="145.50" cy="327.45" r="2.3" fill="#a20f2e"/>
<circle cx="147.50" cy="327.45" r="2.3" fill="#a20f2e"/>
<circle cx="149.50" cy="327.45" r="2.3" fill="#a20f2e"/>
<circle cx="148.50" cy="327.45" r="2.3" fill="#a20f2e"/>
<circle cx="167.90" cy="292.26" r="2.0" fill="#fff" fill-opacity="0.5" stroke="#33507a" stroke-width="1.25"/>
<circle cx="167.90" cy="316.35" r="2.0" fill="#fff" fill-opacity="0.5" stroke="#33507a" stroke-width="1.25"/>
<circle cx="167.90" cy="320.79" r="2.0" fill="#fff" fill-opacity="0.5" stroke="#33507a" stroke-width="1.25"/>
<circle cx="167.90" cy="327.13" r="2.0" fill="#fff" fill-opacity="0.5" stroke="#33507a" stroke-width="1.25"/>
<circle cx="178.30" cy="327.77" r="2.3" fill="#a20f2e"/>
<circle cx="180.30" cy="327.77" r="2.3" fill="#a20f2e"/>
<circle cx="182.30" cy="327.77" r="2.3" fill="#a20f2e"/>
<circle cx="200.70" cy="237.74" r="2.0" fill="#fff" fill-opacity="0.5" stroke="#33507a" stroke-width="1.25"/>
<circle cx="200.70" cy="268.17" r="2.0" fill="#fff" fill-opacity="0.5" stroke="#33507a" stroke-width="1.25"/>
<circle cx="200.70" cy="312.87" r="2.0" fill="#fff" fill-opacity="0.5" stroke="#33507a" stroke-width="1.25"/>
<circle cx="211.10" cy="327.45" r="2.3" fill="#a20f2e"/>
<circle cx="213.10" cy="327.45" r="2.3" fill="#a20f2e"/>
<circle cx="215.10" cy="327.45" r="2.3" fill="#a20f2e"/>
<circle cx="233.50" cy="290.04" r="2.0" fill="#fff" fill-opacity="0.5" stroke="#33507a" stroke-width="1.25"/>
<circle cx="233.50" cy="297.33" r="2.0" fill="#fff" fill-opacity="0.5" stroke="#33507a" stroke-width="1.25"/>
<circle cx="243.90" cy="309.38" r="2.3" fill="#a20f2e"/>
<circle cx="247.90" cy="309.38" r="2.3" fill="#a20f2e"/>
<circle cx="245.90" cy="318.57" r="2.3" fill="#a20f2e"/>
<line x1="127.4" y1="198.60" x2="127.4" y2="329.00" stroke="#333" stroke-width="1.4"/>
<line x1="124.2" y1="328.4" x2="253.0" y2="328.4" stroke="#333" stroke-width="1.4"/>
<line x1="124.2" y1="328.40" x2="127.4" y2="328.40" stroke="#333" stroke-width="1.1"/>
<text x="121.80000000000001" y="331.00" text-anchor="end" font-size="7.8" letter-spacing="0.35" fill="#333" stroke="#333" stroke-width="0.12">0</text>
<line x1="124.2" y1="296.70" x2="127.4" y2="296.70" stroke="#333" stroke-width="1.1"/>
<text x="121.80000000000001" y="299.30" text-anchor="end" font-size="7.8" letter-spacing="0.35" fill="#333" stroke="#333" stroke-width="0.12">100</text>
<line x1="124.2" y1="265.00" x2="127.4" y2="265.00" stroke="#333" stroke-width="1.1"/>
<text x="121.80000000000001" y="267.60" text-anchor="end" font-size="7.8" letter-spacing="0.35" fill="#333" stroke="#333" stroke-width="0.12">200</text>
<line x1="124.2" y1="233.30" x2="127.4" y2="233.30" stroke="#333" stroke-width="1.1"/>
<text x="121.80000000000001" y="235.90" text-anchor="end" font-size="7.8" letter-spacing="0.35" fill="#333" stroke="#333" stroke-width="0.12">300</text>
<line x1="124.2" y1="201.60" x2="127.4" y2="201.60" stroke="#333" stroke-width="1.1"/>
<text x="121.80000000000001" y="204.20" text-anchor="end" font-size="7.8" letter-spacing="0.35" fill="#333" stroke="#333" stroke-width="0.12">400</text>
<line x1="141.30" y1="328.4" x2="141.30" y2="331.4" stroke="#333" stroke-width="1.1"/>
<text x="141.55" y="341.70" text-anchor="middle" font-size="7.7" letter-spacing="0.5" fill="#333" stroke="#333" stroke-width="0.15">d7</text>
<line x1="174.10" y1="328.4" x2="174.10" y2="331.4" stroke="#333" stroke-width="1.1"/>
<text x="174.35" y="341.70" text-anchor="middle" font-size="7.7" letter-spacing="0.5" fill="#333" stroke="#333" stroke-width="0.15">d10</text>
<line x1="206.90" y1="328.4" x2="206.90" y2="331.4" stroke="#333" stroke-width="1.1"/>
<text x="207.15" y="341.70" text-anchor="middle" font-size="7.7" letter-spacing="0.5" fill="#333" stroke="#333" stroke-width="0.15">d14</text>
<line x1="239.70" y1="328.4" x2="239.70" y2="331.4" stroke="#333" stroke-width="1.1"/>
<text x="239.95" y="341.70" text-anchor="middle" font-size="7.7" letter-spacing="0.5" fill="#333" stroke="#333" stroke-width="0.15">d21</text>
<line x1="203.40" y1="205.5" x2="215.40" y2="205.5" stroke="#333" stroke-width="1.1"/>
<line x1="203.40" y1="203.2" x2="203.40" y2="207.8" stroke="#333" stroke-width="1.45"/>
<line x1="215.40" y1="203.2" x2="215.40" y2="207.8" stroke="#333" stroke-width="1.45"/>
<circle cx="209.40" cy="201.3" r="0.95" fill="#222"/>
<line x1="239.00" y1="206.5" x2="250.80" y2="206.5" stroke="#333" stroke-width="1.1"/>
<line x1="239.00" y1="204.2" x2="239.00" y2="208.8" stroke="#333" stroke-width="1.45"/>
<line x1="250.80" y1="204.2" x2="250.80" y2="208.8" stroke="#333" stroke-width="1.45"/>
<circle cx="244.90" cy="201.2" r="0.95" fill="#222"/>
<text x="269.6" y="192.80" font-size="10.5" font-weight="bold" fill="#000" stroke="#000" stroke-width="0.45">E</text>
<text transform="translate(276.7,263.4) rotate(-90) scale(0.7613,1)" text-anchor="middle" font-size="8.2" font-weight="bold" fill="#1a1a1a" stroke="#1a1a1a" stroke-width="0" text-rendering="geometricPrecision">5-HIAA (N.R.I)</text>
<rect x="304.10" y="259.25" width="6.4" height="69.15" fill="#8993bf"/>
<rect x="316.50" y="298.04" width="6.4" height="30.36" fill="#f09b92"/>
<rect x="336.90" y="264.31" width="6.4" height="64.09" fill="#8993bf"/>
<rect x="349.30" y="303.10" width="6.4" height="25.30" fill="#f09b92"/>
<rect x="369.70" y="288.26" width="6.4" height="40.14" fill="#8993bf"/>
<rect x="382.10" y="308.16" width="6.4" height="20.24" fill="#f09b92"/>
<rect x="402.50" y="291.55" width="6.4" height="36.85" fill="#8993bf"/>
<rect x="414.90" y="310.61" width="6.4" height="17.79" fill="#f09b92"/>
<line x1="307.30" y1="252.76" x2="307.30" y2="259.25" stroke="#4a6488" stroke-width="1.1"/>
<line x1="305.40" y1="252.76" x2="309.20" y2="252.76" stroke="#33507a" stroke-width="1.0"/>
<line x1="307.30" y1="259.25" x2="307.30" y2="265.74" stroke="#4a6488" stroke-width="1.0" stroke-opacity="0.75"/>
<line x1="305.80" y1="265.74" x2="308.80" y2="265.74" stroke="#4a6488" stroke-width="0.9" stroke-opacity="0.6"/>
<line x1="319.70" y1="292.81" x2="319.70" y2="298.04" stroke="#c8707e" stroke-width="1.1"/>
<line x1="317.80" y1="292.81" x2="321.60" y2="292.81" stroke="#8a2a45" stroke-width="1.0"/>
<line x1="319.70" y1="298.04" x2="319.70" y2="303.27" stroke="#c8707e" stroke-width="1.0" stroke-opacity="0.55"/>
<line x1="318.20" y1="303.27" x2="321.20" y2="303.27" stroke="#c8707e" stroke-width="0.9" stroke-opacity="0.45"/>
<line x1="340.10" y1="256.04" x2="340.10" y2="264.31" stroke="#4a6488" stroke-width="1.1"/>
<line x1="338.20" y1="256.04" x2="342.00" y2="256.04" stroke="#33507a" stroke-width="1.0"/>
<line x1="340.10" y1="264.31" x2="340.10" y2="272.57" stroke="#4a6488" stroke-width="1.0" stroke-opacity="0.75"/>
<line x1="338.60" y1="272.57" x2="341.60" y2="272.57" stroke="#4a6488" stroke-width="0.9" stroke-opacity="0.6"/>
<line x1="352.50" y1="296.35" x2="352.50" y2="303.10" stroke="#c8707e" stroke-width="1.1"/>
<line x1="350.60" y1="296.35" x2="354.40" y2="296.35" stroke="#8a2a45" stroke-width="1.0"/>
<line x1="352.50" y1="303.10" x2="352.50" y2="309.85" stroke="#c8707e" stroke-width="1.0" stroke-opacity="0.55"/>
<line x1="351.00" y1="309.85" x2="354.00" y2="309.85" stroke="#c8707e" stroke-width="0.9" stroke-opacity="0.45"/>
<line x1="372.90" y1="276.45" x2="372.90" y2="288.26" stroke="#4a6488" stroke-width="1.1"/>
<line x1="371.00" y1="276.45" x2="374.80" y2="276.45" stroke="#33507a" stroke-width="1.0"/>
<line x1="372.90" y1="288.26" x2="372.90" y2="300.07" stroke="#4a6488" stroke-width="1.0" stroke-opacity="0.75"/>
<line x1="371.40" y1="300.07" x2="374.40" y2="300.07" stroke="#4a6488" stroke-width="0.9" stroke-opacity="0.6"/>
<line x1="385.30" y1="305.21" x2="385.30" y2="308.16" stroke="#c8707e" stroke-width="1.1"/>
<line x1="383.40" y1="305.21" x2="387.20" y2="305.21" stroke="#8a2a45" stroke-width="1.0"/>
<line x1="385.30" y1="308.16" x2="385.30" y2="311.11" stroke="#c8707e" stroke-width="1.0" stroke-opacity="0.55"/>
<line x1="383.80" y1="311.11" x2="386.80" y2="311.11" stroke="#c8707e" stroke-width="0.9" stroke-opacity="0.45"/>
<line x1="405.70" y1="277.21" x2="405.70" y2="291.55" stroke="#4a6488" stroke-width="1.1"/>
<line x1="403.80" y1="277.21" x2="407.60" y2="277.21" stroke="#33507a" stroke-width="1.0"/>
<line x1="405.70" y1="291.55" x2="405.70" y2="305.88" stroke="#4a6488" stroke-width="1.0" stroke-opacity="0.75"/>
<line x1="404.20" y1="305.88" x2="407.20" y2="305.88" stroke="#4a6488" stroke-width="0.9" stroke-opacity="0.6"/>
<line x1="418.10" y1="306.39" x2="418.10" y2="310.61" stroke="#c8707e" stroke-width="1.1"/>
<line x1="416.20" y1="306.39" x2="420.00" y2="306.39" stroke="#8a2a45" stroke-width="1.0"/>
<line x1="418.10" y1="310.61" x2="418.10" y2="314.82" stroke="#c8707e" stroke-width="1.0" stroke-opacity="0.55"/>
<line x1="416.60" y1="314.82" x2="419.60" y2="314.82" stroke="#c8707e" stroke-width="0.9" stroke-opacity="0.45"/>
<circle cx="307.30" cy="244.07" r="2.0" fill="#fff" fill-opacity="0.5" stroke="#33507a" stroke-width="1.25"/>
<circle cx="305.30" cy="258.24" r="2.0" fill="#fff" fill-opacity="0.5" stroke="#33507a" stroke-width="1.25"/>
<circle cx="309.30" cy="258.24" r="2.0" fill="#fff" fill-opacity="0.5" stroke="#33507a" stroke-width="1.25"/>
<circle cx="307.30" cy="268.19" r="2.0" fill="#fff" fill-opacity="0.5" stroke="#33507a" stroke-width="1.25"/>
<circle cx="317.70" cy="285.90" r="2.3" fill="#a20f2e"/>
<circle cx="321.70" cy="287.75" r="2.3" fill="#a20f2e"/>
<circle cx="321.70" cy="301.67" r="2.3" fill="#a20f2e"/>
<circle cx="319.70" cy="305.80" r="2.3" fill="#a20f2e"/>
<circle cx="319.70" cy="312.88" r="2.3" fill="#a20f2e"/>
<circle cx="340.10" cy="244.32" r="2.0" fill="#fff" fill-opacity="0.5" stroke="#33507a" stroke-width="1.25"/>
<circle cx="340.10" cy="262.20" r="2.0" fill="#fff" fill-opacity="0.5" stroke="#33507a" stroke-width="1.25"/>
<circle cx="340.10" cy="266.50" r="2.0" fill="#fff" fill-opacity="0.5" stroke="#33507a" stroke-width="1.25"/>
<circle cx="340.10" cy="283.71" r="2.0" fill="#fff" fill-opacity="0.5" stroke="#33507a" stroke-width="1.25"/>
<circle cx="352.50" cy="286.66" r="2.3" fill="#a20f2e"/>
<circle cx="350.50" cy="294.92" r="2.3" fill="#a20f2e"/>
<circle cx="354.50" cy="296.19" r="2.3" fill="#a20f2e"/>
<circle cx="352.50" cy="312.97" r="2.3" fill="#a20f2e"/>
<circle cx="352.50" cy="321.65" r="2.3" fill="#a20f2e"/>
<circle cx="372.90" cy="269.71" r="2.0" fill="#fff" fill-opacity="0.5" stroke="#33507a" stroke-width="1.25"/>
<circle cx="372.90" cy="282.52" r="2.0" fill="#fff" fill-opacity="0.5" stroke="#33507a" stroke-width="1.25"/>
<circle cx="372.90" cy="310.27" r="2.0" fill="#fff" fill-opacity="0.5" stroke="#33507a" stroke-width="1.25"/>
<circle cx="383.30" cy="302.17" r="2.3" fill="#a20f2e"/>
<circle cx="387.30" cy="302.17" r="2.3" fill="#a20f2e"/>
<circle cx="385.30" cy="305.38" r="2.3" fill="#a20f2e"/>
<circle cx="385.30" cy="312.46" r="2.3" fill="#a20f2e"/>
<circle cx="385.30" cy="315.50" r="2.3" fill="#a20f2e"/>
<circle cx="405.70" cy="258.15" r="2.0" fill="#fff" fill-opacity="0.5" stroke="#33507a" stroke-width="1.25"/>
<circle cx="403.70" cy="291.55" r="2.0" fill="#fff" fill-opacity="0.5" stroke="#33507a" stroke-width="1.25"/>
<circle cx="407.70" cy="291.55" r="2.0" fill="#fff" fill-opacity="0.5" stroke="#33507a" stroke-width="1.25"/>
<circle cx="405.70" cy="307.91" r="2.0" fill="#fff" fill-opacity="0.5" stroke="#33507a" stroke-width="1.25"/>
<circle cx="418.10" cy="297.62" r="2.3" fill="#a20f2e"/>
<circle cx="418.10" cy="301.67" r="2.3" fill="#a20f2e"/>
<circle cx="416.10" cy="311.70" r="2.3" fill="#a20f2e"/>
<circle cx="420.10" cy="315.33" r="2.3" fill="#a20f2e"/>
<circle cx="418.10" cy="321.48" r="2.3" fill="#a20f2e"/>
<line x1="299.6" y1="198.90" x2="299.6" y2="329.00" stroke="#333" stroke-width="1.4"/>
<line x1="296.40000000000003" y1="328.4" x2="426.0" y2="328.4" stroke="#333" stroke-width="1.4"/>
<line x1="296.40000000000003" y1="328.40" x2="299.6" y2="328.40" stroke="#333" stroke-width="1.1"/>
<text x="294.0" y="331.00" text-anchor="end" font-size="7.8" letter-spacing="0.35" fill="#333" stroke="#333" stroke-width="0.12">0.0</text>
<line x1="296.40000000000003" y1="286.23" x2="299.6" y2="286.23" stroke="#333" stroke-width="1.1"/>
<text x="294.0" y="288.83" text-anchor="end" font-size="7.8" letter-spacing="0.35" fill="#333" stroke="#333" stroke-width="0.12">0.5</text>
<line x1="296.40000000000003" y1="244.07" x2="299.6" y2="244.07" stroke="#333" stroke-width="1.1"/>
<text x="294.0" y="246.67" text-anchor="end" font-size="7.8" letter-spacing="0.35" fill="#333" stroke="#333" stroke-width="0.12">1.0</text>
<line x1="296.40000000000003" y1="201.90" x2="299.6" y2="201.90" stroke="#333" stroke-width="1.1"/>
<text x="294.0" y="204.50" text-anchor="end" font-size="7.8" letter-spacing="0.35" fill="#333" stroke="#333" stroke-width="0.12">1.5</text>
<line x1="313.50" y1="328.4" x2="313.50" y2="331.4" stroke="#333" stroke-width="1.1"/>
<text x="313.75" y="341.70" text-anchor="middle" font-size="7.7" letter-spacing="0.5" fill="#333" stroke="#333" stroke-width="0.15">d7</text>
<line x1="346.30" y1="328.4" x2="346.30" y2="331.4" stroke="#333" stroke-width="1.1"/>
<text x="346.55" y="341.70" text-anchor="middle" font-size="7.7" letter-spacing="0.5" fill="#333" stroke="#333" stroke-width="0.15">d10</text>
<line x1="379.10" y1="328.4" x2="379.10" y2="331.4" stroke="#333" stroke-width="1.1"/>
<text x="379.35" y="341.70" text-anchor="middle" font-size="7.7" letter-spacing="0.5" fill="#333" stroke="#333" stroke-width="0.15">d14</text>
<line x1="411.90" y1="328.4" x2="411.90" y2="331.4" stroke="#333" stroke-width="1.1"/>
<text x="412.15" y="341.70" text-anchor="middle" font-size="7.7" letter-spacing="0.5" fill="#333" stroke="#333" stroke-width="0.15">d21</text>
<line x1="308.60" y1="206.8" x2="320.40" y2="206.8" stroke="#333" stroke-width="1.1"/>
<line x1="308.60" y1="204.5" x2="308.60" y2="209.10000000000002" stroke="#333" stroke-width="1.45"/>
<line x1="320.40" y1="204.5" x2="320.40" y2="209.10000000000002" stroke="#333" stroke-width="1.45"/>
<circle cx="311.40" cy="202.5" r="0.95" fill="#222"/>
<circle cx="314.50" cy="202.5" r="0.95" fill="#222"/>
<circle cx="317.60" cy="202.5" r="0.95" fill="#222"/>
<line x1="341.65" y1="206.8" x2="353.50" y2="206.8" stroke="#333" stroke-width="1.1"/>
<line x1="341.65" y1="204.5" x2="341.65" y2="209.10000000000002" stroke="#333" stroke-width="1.45"/>
<line x1="353.50" y1="204.5" x2="353.50" y2="209.10000000000002" stroke="#333" stroke-width="1.45"/>
<circle cx="346.02" cy="202.6" r="0.95" fill="#222"/>
<circle cx="349.12" cy="202.6" r="0.95" fill="#222"/>
<line x1="373.40" y1="206.9" x2="385.10" y2="206.9" stroke="#333" stroke-width="1.1"/>
<line x1="373.40" y1="204.6" x2="373.40" y2="209.20000000000002" stroke="#333" stroke-width="1.45"/>
<line x1="385.10" y1="204.6" x2="385.10" y2="209.20000000000002" stroke="#333" stroke-width="1.45"/>
<circle cx="379.25" cy="202.5" r="0.95" fill="#222"/>
<circle cx="48.7" cy="35.5" r="2.0" fill="none" stroke="#1f3f66" stroke-width="1.3"/>
<circle cx="49.0" cy="47.1" r="2.2" fill="#8e1030"/>
<text x="53.8" y="38" font-size="7.3" fill="#222" stroke="#222" stroke-width="0.1">WT Control</text>
<text x="53.8" y="49.4" font-size="7.3" fill="#222" stroke="#222" stroke-width="0.1">WT PyNL</text>
<rect x="0.5" y="0.5" width="519" height="349" fill="none" stroke="#5a5a5a" stroke-width="1"/>
</svg>
</body></html>
